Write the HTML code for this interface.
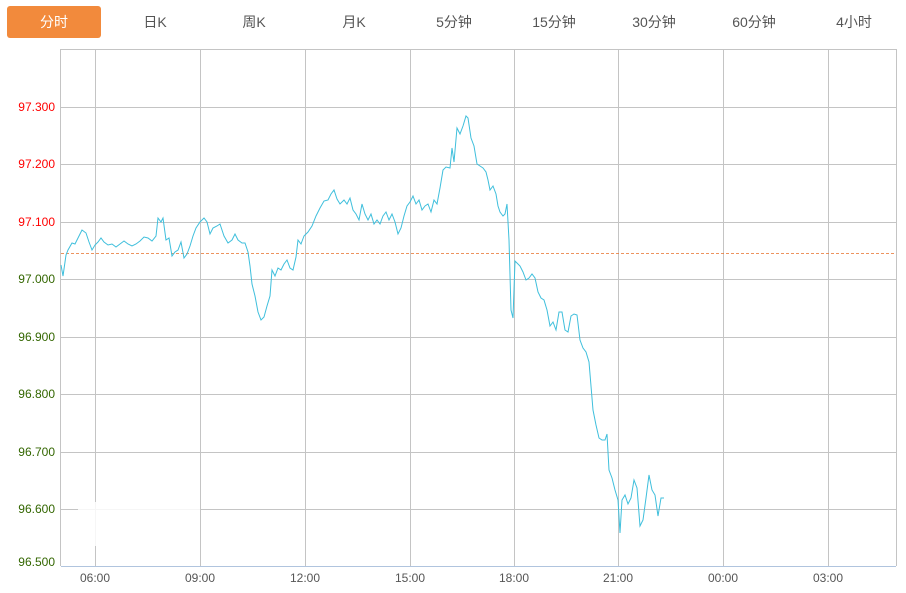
<!DOCTYPE html>
<html><head><meta charset="utf-8"><style>
html,body{margin:0;padding:0;background:#fff;width:906px;height:593px;overflow:hidden;font-family:"Liberation Sans","Noto Sans CJK SC",sans-serif}
</style></head><body>
<svg width="906" height="593" xmlns="http://www.w3.org/2000/svg" style="position:absolute;left:0;top:0">
<rect x="7" y="6" width="94" height="32" rx="3" fill="#f28a3c"/>
<g font-family="Liberation Sans, Noto Sans CJK SC, sans-serif" font-size="14" text-anchor="middle" fill="#555">
<text x="54" y="27" fill="#fff">分时</text>
<text x="155" y="27">日K</text>
<text x="254" y="27">周K</text>
<text x="354" y="27">月K</text>
<text x="454" y="27">5分钟</text>
<text x="554" y="27">15分钟</text>
<text x="654" y="27">30分钟</text>
<text x="754" y="27">60分钟</text>
<text x="854" y="27">4小时</text>
</g>
<g stroke="#c4c4c4" stroke-width="1" fill="none">
<line x1="61" y1="49.5" x2="896" y2="49.5"/>
<line x1="61" y1="107.5" x2="896" y2="107.5"/>
<line x1="61" y1="164.5" x2="896" y2="164.5"/>
<line x1="61" y1="222.5" x2="896" y2="222.5"/>
<line x1="61" y1="279.5" x2="896" y2="279.5"/>
<line x1="61" y1="337.5" x2="896" y2="337.5"/>
<line x1="61" y1="394.5" x2="896" y2="394.5"/>
<line x1="61" y1="452.5" x2="896" y2="452.5"/>
<line x1="61" y1="509.5" x2="896" y2="509.5"/>
<line x1="60.5" y1="49" x2="60.5" y2="566"/>
<line x1="896.5" y1="49" x2="896.5" y2="566"/>
<line x1="95.5" y1="49" x2="95.5" y2="566"/>
<line x1="200.5" y1="49" x2="200.5" y2="566"/>
<line x1="305.5" y1="49" x2="305.5" y2="566"/>
<line x1="410.5" y1="49" x2="410.5" y2="566"/>
<line x1="514.5" y1="49" x2="514.5" y2="566"/>
<line x1="618.5" y1="49" x2="618.5" y2="566"/>
<line x1="723.5" y1="49" x2="723.5" y2="566"/>
<line x1="828.5" y1="49" x2="828.5" y2="566"/>
</g>
<line x1="61" y1="566.5" x2="896" y2="566.5" stroke="#b0c4de"/>
<rect x="78" y="502" width="122" height="44" fill="#fff" opacity="0.85"/>
<line x1="61" y1="253.5" x2="896" y2="253.5" stroke="#e8702a" stroke-width="0.8" stroke-dasharray="3,2"/>
<g font-size="12" text-anchor="end" font-family="Liberation Sans, sans-serif">
<text x="55" y="111" fill="#ff0000">97.300</text>
<text x="55" y="168" fill="#ff0000">97.200</text>
<text x="55" y="226" fill="#ff0000">97.100</text>
<text x="55" y="283" fill="#336600">97.000</text>
<text x="55" y="341" fill="#336600">96.900</text>
<text x="55" y="398" fill="#336600">96.800</text>
<text x="55" y="456" fill="#336600">96.700</text>
<text x="55" y="513" fill="#336600">96.600</text>
<text x="55" y="566" fill="#336600">96.500</text>
</g>
<g font-size="12" text-anchor="middle" fill="#555" font-family="Liberation Sans, sans-serif">
<text x="95" y="582">06:00</text><text x="200" y="582">09:00</text><text x="305" y="582">12:00</text><text x="410" y="582">15:00</text><text x="514" y="582">18:00</text><text x="618" y="582">21:00</text><text x="723" y="582">00:00</text><text x="828" y="582">03:00</text>
</g>
<polyline fill="none" stroke="#3fbfdc" stroke-width="1" points="61,265 63,276 66,255 68,250 72,243 75,244 78,238 82,230 86,233 89,242 92,250 95,245 98,242 101,238 104,242 108,245 112,244 116,247 120,244 124,241 128,244 132,246 136,244 140,241 144,237 148,238 152,241 156,236 158,218 161,222 163,218 166,240 169,238 172,256 175,252 178,250 181,242 184,258 187,254 190,246 193,236 196,228 200,222 204,218 207,222 210,234 213,228 217,226 220,224 224,236 228,243 232,240 235,234 238,240 242,243 245,243 248,252 250,266 252,284 255,296 258,312 261,320 264,317 267,306 270,296 272,270 275,276 278,268 281,270 284,264 287,260 290,268 293,270 296,257 298,240 301,244 304,236 308,232 312,226 316,216 320,208 324,201 328,200 331,194 334,190 337,199 340,204 344,200 347,204 350,198 353,210 356,214 359,220 362,204 365,214 368,220 371,214 374,224 377,220 380,224 383,216 386,212 389,220 392,214 395,222 398,234 401,228 404,216 407,206 410,202 413,196 416,204 419,200 422,210 425,206 428,204 431,212 434,200 437,204 440,188 443,170 446,167 450,168 452,148 454,162 457,128 460,134 463,126 466,116 468,118 471,138 474,146 477,164 480,166 483,168 486,172 488,180 490,190 493,186 496,194 498,206 500,212 503,216 505,214 507,204 509,240 511,310 513,318 515,261 518,264 520,266 523,272 526,280 529,278 532,274 535,278 538,292 541,298 544,300 547,310 550,326 553,322 556,330 559,312 562,312 565,330 568,332 571,316 574,314 577,315 580,340 583,348 586,352 589,362 591,386 593,410 596,425 599,438 602,440 605,440 607,434 609,470 612,478 615,490 618,500 620,533 622,500 625,495 628,504 631,498 634,480 637,488 640,526 643,520 646,498 649,475 652,490 655,495 658,516 661,498 664,498"/>
</svg>
</body></html>
